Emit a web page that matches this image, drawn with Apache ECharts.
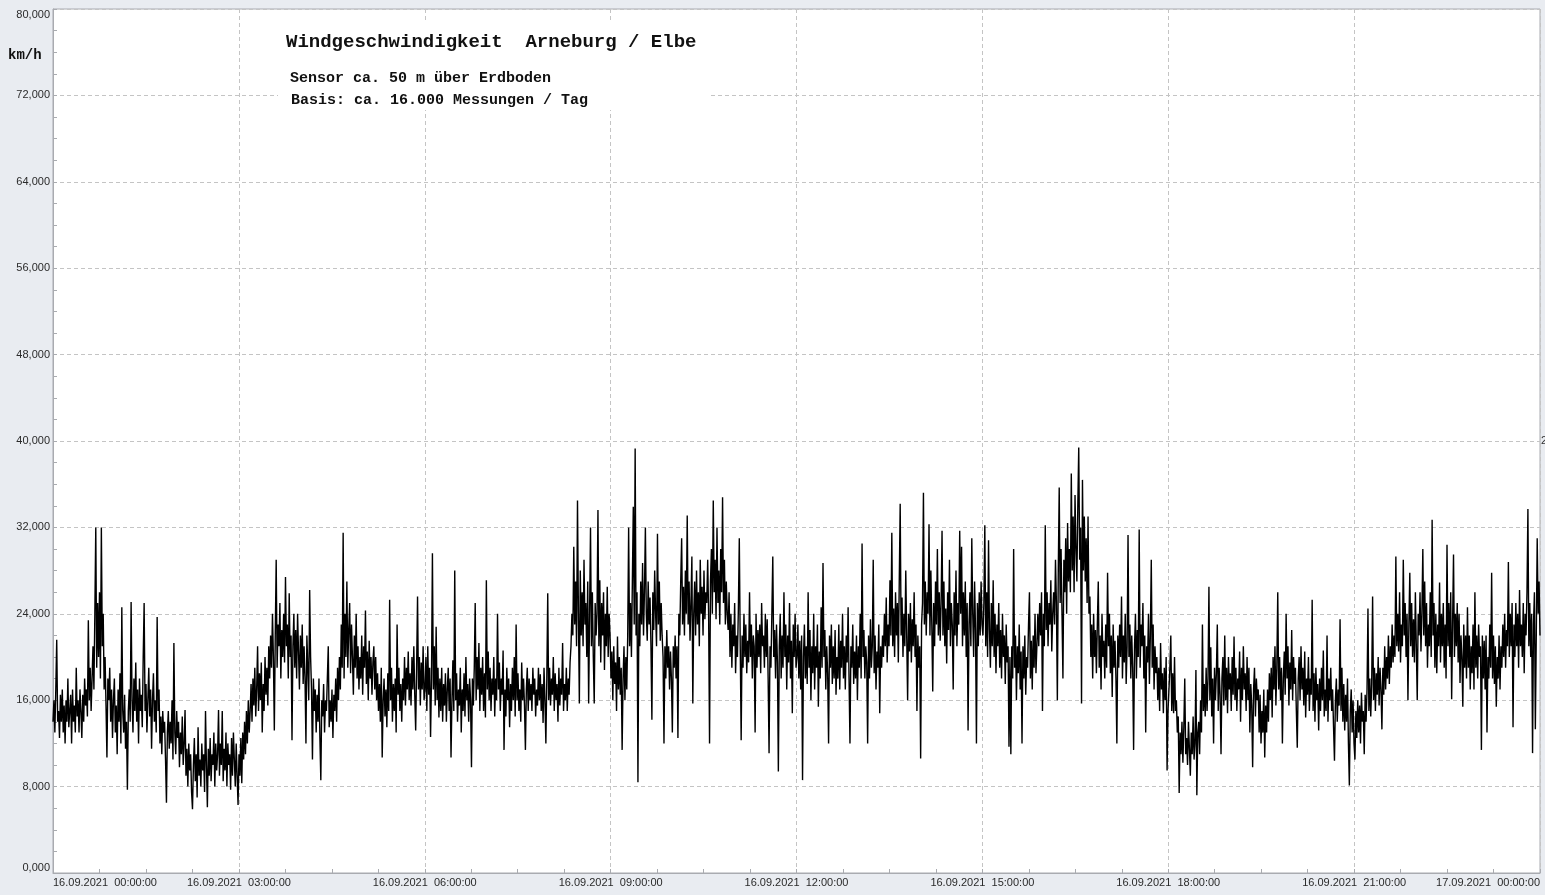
<!DOCTYPE html>
<html>
<head>
<meta charset="utf-8">
<script src="https://cdn.jsdelivr.net/npm/echarts@6/dist/echarts.min.js"></script>
<style>
html,body{margin:0;padding:0;background:#e9ecf1;}
#c{width:1545px;height:895px;}
</style>
</head>
<body>
<div id="c"></div>
<script>
// Wind speed (km/h), one array per 3-hour block (200 readings each)
var seg00_03 = [14,16,13,17,21.6,14,15,12.5,16.5,14, 17,13,15.5,12,16,14,18,13.5,15,16.5, 12,17,14,15.5,13,19,14.5,16,13,17, 15,12.5,16.5,14,18,15.5,17,14.5,23.4,16, 19,15,18,21,17,24,32,19,25,20, 26,18,32,21,24,17,20,15.5,10.7,18, 16,19,14,17,12.5,16,18,13,15.5,11, 17,14,18.5,12,24.6,15,13,16.5,11.5,14, 7.7,15,17,14,25.1,16,13,18,15,19.5, 14,17,12,18,15,16.5,13.5,20,25,15, 17.5,13,16,19,14.5,17,11.5,16,18.5,14, 16,13,23.7,15,17,12,14.5,11,15,13, 14,10.5,6.5,13,15,11.5,14,12,16,10.5, 21.3,13,11,15,12.5,14,9.8,13,11,14.5, 10,12,15.1,9,11.5,8,12,9.5,11,7.5, 5.9,10,12.5,8.5,11,7,13.5,9,10.5,8, 12,9.5,11,7.5,15,10,6.1,11.5,9,12.5, 8.5,11,10,13,8,12,9.5,11,15.1,9, 12,10,15,8.5,11.5,9.5,13,8,12,10, 11,7.7,12.5,9,13,10.5,8,12,9,6.3];
var seg03_06 = [11,9,12.5,8.3,13,10.5,14,11,15,12, 16,13,15,17.5,14,18,15.5,19,14.5,17, 21,15,18.5,16,19.5,13,17.5,15,20,16.5, 19,15.5,21,18,22,19,24,20,13.2,22, 29,19,23,21,25,18,22.5,20,24,19.5, 27.4,21,23,18,25.9,20,22,12.3,21,24, 19,22.5,18,24,20.5,17,22,19,23,17.5, 21,18,12,22,19,16,26.2,20,17,10.5, 18,15,17,13,16.5,14,18,12.5,8.6,16, 14.5,17.5,13,16,15,18,21,13.5,16,14, 17,12.5,16.5,15,18,14,19,16,20,17, 23,19,31.5,18,24,20,27,19,22.5,25, 18.5,23,20,16.5,22,19,24,18,21,17, 20,18,22,16.5,21,19,24.3,17.5,20.5,16, 21.5,18,20,16.5,19.5,21,17,20,16,18.5, 15,17.5,14,19,10.7,16,18,14.5,17,13.5, 18.5,15,25.3,16,19,14,17.5,15,18,13, 23,16.5,19,15,17.5,14,18,16,20,15.5, 19,17,20.5,16,18.5,15.5,20,17,21,16.5, 13.2,19,25.6,17,20,15.5,19.5,17,21,16];
var seg06_09 = [17,20,15,21,16.5,19,12.6,18,29.6,17, 21,15.5,22.8,16,19,14.4,18,15,19,14, 17.5,15.5,18.5,14,17,19,15,18,10.7,16, 19.7,15,28,16,18.5,14,17,15.5,19,13, 17,15,18.5,14.5,20,16,17.5,14,18,16, 9.8,18,15.5,19,25,16,20,17,21.3,15, 19,16.5,20,15,18.5,14.4,27.1,17,20.5,16, 19,15,18,16.5,20,14.5,18,16,24,17, 19.5,15,18,16.5,20.6,11.4,17,14.5,19,16, 18,13.5,17.5,15,19,16,20,14.5,23,16, 18.5,15,17,14,19.5,16,18,15.5,11.4,17, 19,15,18,16,17.5,15,19,16.5,18,14.5, 17,15.5,19,16,18.4,15,17.5,13.9,19,16, 12,18,25.9,16,19,15.5,18,16.5,20,15, 18.5,16,17.5,14,19,15.5,18,16.5,21.3,15, 17.5,16,19,15,18,16.5,19.5,21,24,22, 30.2,23,27,21,34.5,24,15.7,28,22,26, 21,29,23,25,20,27,15.7,24,32,21, 26,20,15.7,25,22,24,33.6,21,27.1,19.5, 25,22,26,18.8,24,21,26.5,20,24,22];
var seg09_12 = [18,20.5,16,21,17.5,19.5,15,21.9,17,20, 16.5,19,11.4,18,21,16,20,17,22,32, 21,25,20,27,33.9,23,39.3,22,26,8.4, 24,21,27,23,28.7,22,26,32,24,21.5, 27,23,25.5,21,14.2,26,22.5,28,24,21, 31.4,23,27,21.5,25,22,20,12,21,18, 22.5,19,21,17,20.5,18,13,21,19,22, 18,21,12.5,24,22,27,31,23,26.5,22, 28,24,33.1,23,27,21.5,25,29.3,15.7,24, 27,22,28,23,26,21,29,24,26.5,22, 28,23.5,26,25,29,24,12,27,30,24, 34.5,26,29,23.5,32,25,28,23,30,26, 34.8,25,29,23,27,24,22.5,26,20,24, 19,23,21,25,18.5,22,20,24.5,31,21, 12.3,22,19,24,20,23,18.5,21.5,19.5,26, 20,23,18,22,21,13,24,19,22.5,20, 23,18.5,25,21,22,19,24,20,23.5,18, 11.1,21,19,24,29.3,20,22.5,18,23,19.5, 9.4,21,24,18,22,19,26,20,23,17, 22,19.5,25,18,21.5,14.8,23,20,24,19];
var seg12_15 = [20,23,18,21.5,17,22,8.6,20,23,18, 21,17.5,26,19,22.5,16,21,18.5,24,17, 21,19,23,15.4,20.5,18,24.6,19,28.7,20, 22.5,17,21,18.5,12,22,19,23,17.5,21, 18,22.5,16.5,20,18,23,17,21.5,19,24, 18,21,17,22,19.5,24.6,18,12,21,19, 23,17.5,20.5,18,22,16,21,19,24,18, 30.5,20,22.5,18,21,19.5,12,22,18,23.5, 19,21,29,18.5,22,17,20.5,19,23,14.8, 21,19,22,20,24,21,25.5,19.5,23,21, 27.1,22,31.5,21,24.5,20,26,22,25,19.5, 27,34.2,22,25.5,20,24,21,28,22,16, 24,20.5,25,19.5,23.5,21,26,20,23,15, 22,19,21,10.6,23,25,35.2,23,27,22, 26,24,32.3,22,28,23,16.8,25,21,27, 23,30,22,26,21.5,25,31.7,22,27,21, 24.5,19.4,26,22.5,29,21,25,23,17,26, 22,28,21,25,23,31.7,24,30.2,21,26, 22,27,20,25,13.2,23,26,21,31,24, 20,27,22.5,12,25,21,26,22,27,23];
var seg15_18 = [22,25,32.2,21,26,20,30.8,22.5,19,25, 21,27.1,20,24,18.5,23,21,25,19,22.5, 18,24,20,22,17.5,23,19.5,21,11.7,20, 11,21,18,30,19,22,16,21,18.5,23, 17,20.5,12,21,18,22,16.5,20,19,23, 26,18,21.5,17,22,19,24,18.5,21,24, 21,25,22,26,15,24,21,32.2,22.5,26, 21,25,23,27.1,20.5,24,26,23,29,25, 16,28,35.7,25,30,24,18,29,26,31, 24,32.4,27,30,26,37,28,33,26,35, 30,27,34,39.4,29,32,15.7,36.4,28,33, 27,31,25,33,24,25.6,20,23,18,24, 20,22.5,18.5,23,27,19,22,17,24,20, 21.5,18,23,19,27.8,21,24,18.5,22,16.3, 23,19,21.5,18,12,22,19,23,20,25.6, 18,22,19.5,24,17.5,21,31.3,20,23,18, 22,19,11.4,21,24,18,22.5,20,31.8,19, 23,21,25,18,22,13,21,19.5,24,17.5, 22,29,19,23,17,21,18.5,20,16,19, 15,21.3,17,18.5,14.8,19,16,20,9.5,15];
var seg18_21 = [17,19,22,15,18.5,14.8,20,15,16,13, 14.5,7.4,13,11,14,10.2,13.5,18,11,12.5, 10,14,11.5,9,13,11,14.5,10.5,12,18.8, 7.2,13,14,11,16,13,23,15,17.5,14.5, 19,15,18,26.5,16,20.9,14.5,18,12,19, 16,18.5,23,15,19,16.5,11,18,20,15.5, 22,16,19,14.8,20,17,18.5,15,20,16.5, 21.9,16,19,15,18,17,20.5,14,19,16, 21,17,18.5,15,20,16,19,13,17.5,15.5, 9.8,17,19,14.5,18,16,17,13,16.5,12, 15,13,17,10.7,15.5,13,17,14,18.5,16, 19,14.4,20,17,21,15.5,19,26,17,20, 16,19,12,18,20.5,16.5,24,18,21,15.5, 19.5,17,22.5,16,20,17.5,19,15,11.6,18, 20,16,21,17,19,15.5,20.5,14.4,18,16.5, 20,15,18,16.5,25.3,15,18.5,14,19,16, 17.5,13.2,18,15,19,16,20.6,14.5,17,15, 22,14,18,16,19,15,17,13.5,10.4,16, 18,14,17,15.5,23.5,15,19,14,17.5,13.2, 16.5,14,18,12,8.1,15,17,13,16,12];
var seg21_24 = [10.5,15,12.5,16,13,15.5,12,16.7,14,15, 11,16.5,14,17,24.5,15,18,14.5,17.5,25.6, 16,19,15,18.5,16.5,20,15.5,19,17,13.3, 19,16.5,21,17,20,18,22,17.5,21,19, 23,19.5,22,20,29.3,21,24,20.5,26,19.5, 23,21,29,22,25,20,24,16,23,27.8, 21,25,20,23.5,19.5,26,21,16,24,22, 26,20.5,24,30,22,27,21,25,19,23, 21,26,20,32.7,22,25,19,24,18.5,23, 21,26.9,19.5,24,21,25,19,23,18,30.4, 21,25,20,26,16.1,23,29.5,20,24,21, 25,19.5,24,17.6,22,20,15.4,23,19,22, 18,24.6,19,22,17,21,18.5,23,17,26, 19,22,18,23,20,21,11.4,22,18,21.5, 17,22,13,20,18,23,19,27.8,18,22, 17.5,21,15.4,20,18,22,17,21,19,23, 20,24,19,22.5,21,28.8,20,24,21,25, 13.5,23,20,25,21,24,19,26.2,21,23, 20,25,18.5,24,22,26,33.7,21,25,20, 24,11.1,23,26,13.3,22,31,24,27,22];

var xTickLabels = ['16.09.2021  00:00:00','16.09.2021  03:00:00','16.09.2021  06:00:00','16.09.2021  09:00:00','16.09.2021  12:00:00','16.09.2021  15:00:00','16.09.2021  18:00:00','16.09.2021  21:00:00','17.09.2021  00:00:00'];
var titleText = 'Windgeschwindigkeit  Arneburg / Elbe';
var subText1 = 'Sensor ca. 50 m über Erdboden';
var subText2 = 'Basis: ca. 16.000 Messungen / Tag';
var unitText = 'km/h';

var values = [].concat(seg00_03, seg03_06, seg06_09, seg09_12, seg12_15, seg15_18, seg18_21, seg21_24);
var spanHours = 24;
var step = spanHours / (values.length - 1);
var data = values.map(function (v, i) { return [i * step, v]; });

var chart = echarts.init(document.getElementById('c'), null, {renderer: 'canvas'});
var grid = '#a9abb0';
var dash = {color: '#c4c4c4', type: [4, 3], width: 1};
chart.setOption({
  animation: false,
  backgroundColor: '#e9ecf1',
  grid: {left: 53, right: 5, top: 9, bottom: 22, show: true, backgroundColor: '#ffffff', borderColor: grid, borderWidth: 1},
  xAxis: {
    type: 'value', min: 0, max: 24, interval: 3,
    axisLine: {show: true, lineStyle: {color: grid}},
    axisTick: {show: true, inside: true, length: 4, lineStyle: {color: grid}},
    minorTick: {show: true, splitNumber: 4, length: 4, lineStyle: {color: grid}},
    splitLine: {show: true, lineStyle: dash},
    axisLabel: {
      margin: 4, fontFamily: 'Liberation Sans, Arial', fontSize: 11, color: '#2a2a2a',
      alignMinLabel: 'left', alignMaxLabel: 'right',
      formatter: function (v) { return xTickLabels[Math.round(v / 3)] || ''; }
    }
  },
  yAxis: {
    type: 'value', min: 0, max: 80, interval: 8,
    axisLine: {show: true, lineStyle: {color: grid}},
    axisTick: {show: true, inside: true, length: 4, lineStyle: {color: grid}},
    minorTick: {show: true, splitNumber: 4, length: 4, lineStyle: {color: grid}},
    splitLine: {show: true, lineStyle: dash},
    axisLabel: {
      margin: 3, fontFamily: 'Liberation Sans, Arial', fontSize: 11, color: '#2a2a2a',
      verticalAlignMinLabel: 'bottom', verticalAlignMaxLabel: 'top',
      formatter: function (v) { return v.toFixed(3).replace('.', ','); }
    }
  },
  series: [{
    type: 'line', data: data, showSymbol: false, symbol: 'none', sampling: null,
    lineStyle: {color: '#000000', width: 1.4}, z: 3
  }],
  graphic: [
    {type: 'rect', left: 278, top: 20, shape: {width: 430, height: 90}, style: {fill: '#ffffff'}, z: 10},
    {type: 'text', left: 286, top: 33, z: 11, style: {text: titleText, font: 'bold 19px "Liberation Mono", "Courier New", monospace', fill: '#111'}},
    {type: 'text', left: 290, top: 71, z: 11, style: {text: subText1, font: 'bold 15px "Liberation Mono", "Courier New", monospace', fill: '#111'}},
    {type: 'text', left: 291, top: 93, z: 11, style: {text: subText2, font: 'bold 15px "Liberation Mono", "Courier New", monospace', fill: '#111'}},
    {type: 'text', left: 8, top: 48, z: 11, style: {text: unitText, font: 'bold 14px "Liberation Mono", "Courier New", monospace', fill: '#111'}},
    {type: 'text', left: 1541, top: 435, z: 11, style: {text: '2', font: '11px "Liberation Sans", Arial', fill: '#333'}}
  ]
});
</script>
</body>
</html>
